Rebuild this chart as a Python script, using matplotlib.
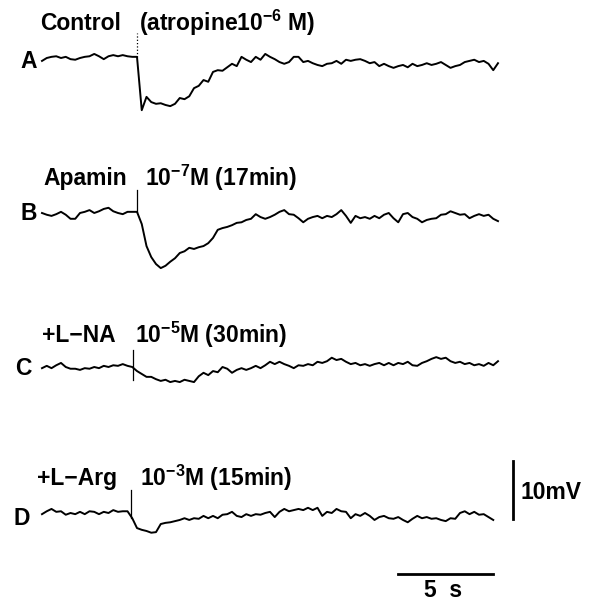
import numpy as np
import matplotlib
matplotlib.use("Agg")
import matplotlib.pyplot as plt

plt.rcParams['font.family'] = ['Liberation Sans', 'DejaVu Sans']
plt.rcParams['font.weight'] = 'bold'
plt.rcParams['mathtext.fontset'] = 'custom'
plt.rcParams['mathtext.rm'] = 'Liberation Sans:bold'
plt.rcParams['mathtext.it'] = 'Liberation Sans:bold:italic'
plt.rcParams['mathtext.bf'] = 'Liberation Sans:bold'

# ---- data (membrane potential, mV relative to resting level; sampled every 0.25 s) ----
time_step_s = 0.25

trace_a_mv = [-0.5, 0.0, 0.2, 0.3, 0.0, 0.2, -0.2, -0.3, 0.0, 0.2,
              0.3, 0.7, 0.3, -0.2, 0.3, 0.5, 0.3, 0.5, 0.3, 0.2,
              0.2, -9.0, -6.7, -7.6, -7.9, -7.8, -8.1, -8.3, -7.9, -6.9,
              -7.1, -6.6, -5.2, -4.8, -3.8, -4.1, -2.4, -2.1, -2.2, -1.6,
              -1.0, -1.4, 0.2, -0.3, -0.7, 0.2, -0.3, 0.7, 0.2, -0.2,
              -0.7, -1.0, -0.7, 0.2, 0.2, -0.7, -0.5, -0.9, -1.2, -1.4,
              -1.0, -0.9, -0.5, -1.0, -0.3, -0.5, -0.3, -0.2, -0.5, -0.9,
              -0.7, -1.4, -1.0, -1.4, -1.7, -1.4, -1.2, -1.6, -1.0, -1.4,
              -1.2, -0.9, -1.2, -1.0, -0.7, -1.2, -1.7, -1.4, -1.2, -0.7,
              -0.5, -0.3, -0.7, -0.5, -1.0, -2.1, -0.9]

trace_b_mv = [0.0, -0.3, -0.5, -0.2, 0.2, -0.3, -1.0, -1.0, 0.0, 0.2,
              0.5, 0.0, 0.3, 0.7, 0.9, 0.3, 0.0, -0.2, 0.2, 0.2,
              0.2, -1.9, -5.7, -7.6, -8.8, -9.5, -9.1, -8.4, -7.8, -6.9,
              -6.6, -6.0, -6.2, -5.9, -5.7, -5.2, -4.3, -2.9, -2.6, -2.4,
              -2.1, -1.7, -1.6, -1.2, -1.0, -0.2, -0.7, -1.0, -0.7, -0.3,
              0.2, 0.5, -0.2, -0.3, -0.9, -1.6, -1.0, -0.7, -0.5, -0.9,
              -0.5, -0.7, -0.2, 0.5, -0.5, -1.7, -0.5, -0.9, -0.7, -1.0,
              -0.5, -0.9, -0.3, 0.0, -0.9, -1.6, -0.2, 0.0, -0.7, -1.0,
              -1.6, -1.2, -1.0, -0.9, -0.3, -0.2, 0.3, 0.0, -0.3, -0.2,
              -0.9, -0.5, -0.2, -0.5, -0.3, -1.0, -1.4]

trace_c_mv = [-0.2, 0.2, -0.2, 0.3, 0.7, 0.0, -0.3, -0.3, -0.5, -0.2,
              -0.3, 0.0, -0.2, 0.2, 0.0, 0.3, 0.2, 0.5, 0.2, 0.0,
              -0.7, -1.2, -1.7, -1.7, -2.1, -2.4, -2.2, -2.6, -2.4, -2.6,
              -2.2, -2.4, -2.6, -1.6, -1.0, -1.4, -0.7, -0.9, 0.0, -0.3,
              -1.0, -0.5, -0.2, -0.5, -0.2, 0.2, -0.2, 0.3, 0.9, 0.5,
              0.9, 0.5, 0.2, -0.2, 0.3, 0.2, 0.5, 0.3, 0.9, 0.7,
              1.0, 1.6, 1.2, 1.4, 0.9, 0.5, 0.7, 0.3, 0.5, 0.2,
              0.5, 0.7, 0.3, 0.7, 0.3, 0.7, 0.5, 0.9, 0.3, 0.2,
              0.7, 1.0, 1.4, 1.7, 1.4, 1.6, 1.0, 0.7, 0.9, 0.5,
              0.7, 0.3, 0.5, 0.2, 0.7, 0.3, 1.0]

trace_d_mv = [-0.2, 0.3, 0.7, 0.2, 0.3, -0.3, 0.0, -0.2, 0.2, -0.2,
              0.3, 0.2, -0.2, 0.2, 0.0, 0.5, 0.2, 0.3, 0.3, -0.9,
              -2.6, -2.9, -3.1, -3.4, -3.3, -1.9, -1.7, -1.6, -1.4, -1.2,
              -0.9, -1.2, -0.9, -1.0, -0.5, -0.9, -0.5, -0.9, -0.3, -0.2,
              0.2, -0.5, -0.7, -0.2, -0.5, -0.2, -0.3, 0.0, 0.2, -0.7,
              0.2, 0.7, 0.3, 0.5, 0.7, 0.5, 0.9, 0.5, 0.9, -0.5,
              0.2, 0.0, 0.7, 0.3, 0.2, -0.9, -0.2, -0.5, 0.0, -0.5,
              -1.2, -0.7, -0.5, -0.9, -1.0, -0.7, -1.2, -1.6, -1.0, -0.5,
              -0.9, -0.7, -1.0, -0.9, -1.2, -1.4, -0.9, -1.0, 0.0, 0.3,
              -0.2, 0.2, -0.3, -0.2, -0.7, -1.2]

stim_times_s = [5.0, 5.0, 4.8, 4.7]
stim_peak_mv = [4.3, 4.0, 2.9, 4.0]
stim_base_mv = [0.2, 0.2, -2.2, -0.9]

trace_letters = ['A', 'B', 'C', 'D']
drug_labels = ['Control', 'Apamin', '+L\u2212NA', '+L\u2212Arg']
conc_labels = [r'(atropine10$^{-6}$ M)', r'10$^{-7}$M (17min)',
               r'10$^{-5}$M (30min)', r'10$^{-3}$M (15min)']

scale_mv = 10
scale_s = 5

# ---- layout ----
W, H = 593, 601
PX_PER_S = 19.0
PX_PER_MV = 5.8
X0_PX = 42.0
FS = 16.5


def px2x(px):
    return (px - X0_PX) / PX_PER_S


def px2y(py):
    return -py / PX_PER_MV


fig = plt.figure(figsize=(W / 100, H / 100), dpi=100)
ax = fig.add_axes([0, 0, 1, 1])
ax.set_xlim(px2x(0), px2x(W))
ax.set_ylim(px2y(H), px2y(0))
ax.axis('off')

traces = [trace_a_mv, trace_b_mv, trace_c_mv, trace_d_mv]
baseline_px = [58, 213, 367, 513]
letter_px = [(20, 62), (20, 213), (15, 368), (13, 518)]
drug_px = [(40, 23), (43, 178), (42, 335), (37, 478)]
conc_px = [(139, 23), (145, 178), (135, 335), (140, 478)]

for i, tr in enumerate(traces):
    vals = np.asarray(tr)
    t = np.arange(len(vals)) * time_step_s
    off = px2y(baseline_px[i])
    ax.plot(t, vals + off, color='black', lw=1.4, solid_joinstyle='round')
    ls = ':' if i == 0 else '-'
    ax.plot([stim_times_s[i], stim_times_s[i]],
            [stim_base_mv[i] + off, stim_peak_mv[i] + off],
            color='black', lw=0.9, ls=ls)
    ax.text(px2x(letter_px[i][0]), px2y(letter_px[i][1]), trace_letters[i],
            fontsize=FS, ha='left', va='center')
    ax.text(px2x(drug_px[i][0]), px2y(drug_px[i][1]), drug_labels[i],
            fontsize=FS, ha='left', va='center')
    ax.text(px2x(conc_px[i][0]), px2y(conc_px[i][1]), conc_labels[i],
            fontsize=FS, ha='left', va='center')

# scale bars
sb_x = px2x(513)
sb_top = px2y(461)
ax.plot([sb_x, sb_x], [sb_top, sb_top - scale_mv], color='black', lw=2)
ax.text(px2x(521), px2y(492), f'{scale_mv}mV', fontsize=FS, ha='left', va='center')

hb_y = px2y(574)
hb_x1 = px2x(493)
ax.plot([hb_x1 - scale_s, hb_x1], [hb_y, hb_y], color='black', lw=2)
ax.text(px2x(443), px2y(590), f'{scale_s}  s', fontsize=FS, ha='center', va='center')

fig.savefig('out.png', dpi=100)
